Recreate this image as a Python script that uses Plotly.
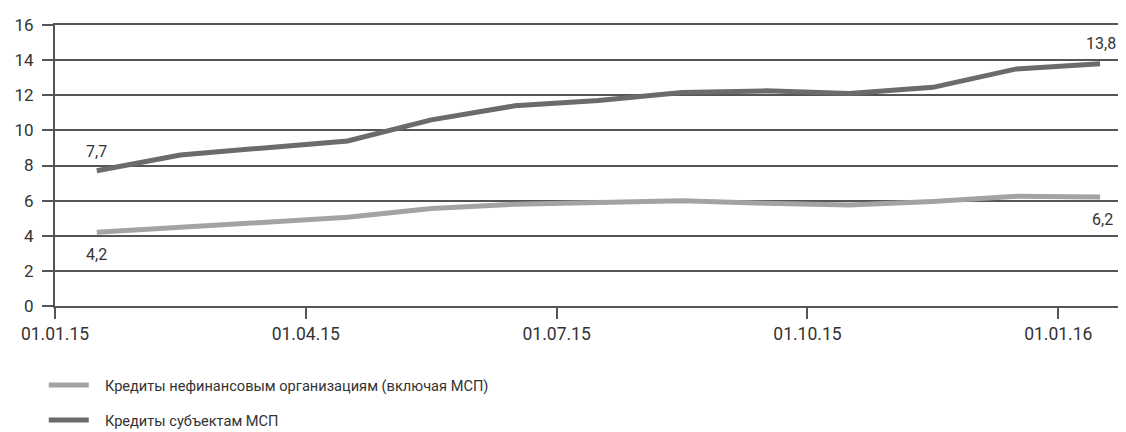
import plotly.graph_objects as go

months = list(range(13))  # monthly points 01.01.15 .. 01.01.16
sme_loans = [7.7, 8.6, 9.0, 9.4, 10.6, 11.4, 11.7, 12.15, 12.25, 12.1, 12.45, 13.5, 13.8]
nonfin_loans = [4.2, 4.5, 4.8, 5.05, 5.55, 5.8, 5.9, 6.0, 5.85, 5.75, 5.95, 6.25, 6.2]

tick_pos = [-0.5, 2.5, 5.5, 8.5, 11.5]
tick_text = ["01.01.15", "01.04.15", "01.07.15", "01.10.15", "01.01.16"]
y_ticks = [0, 2, 4, 6, 8, 10, 12, 14, 16]

name_nonfin = "Кредиты нефинансовым организациям (включая МСП)"
name_sme = "Кредиты субъектам МСП"

FONT = "Roboto, sans-serif"
GRID = "#555555"
TXT = "#333333"
PAD = "\u2002\u2005"  # visual gap between legend symbol and text

def fmt(v):
    return f"{v:.1f}".replace(".", ",")

fig = go.Figure()
fig.add_trace(go.Scatter(
    x=months, y=nonfin_loans, name=PAD + name_nonfin, mode="lines", legendgroup="a",
    line=dict(color="#a3a3a3", width=5),
))
fig.add_trace(go.Scatter(
    x=months, y=sme_loans, name=PAD + name_sme, mode="lines", legendgroup="b",
    line=dict(color="#6b6b6b", width=5),
))

annos = [
    (months[0], sme_loans[0], fmt(sme_loans[0]), 0, 19),
    (months[-1], sme_loans[-1], fmt(sme_loans[-1]), 1, 20),
    (months[0], nonfin_loans[0], fmt(nonfin_loans[0]), 0, -22),
    (months[-1], nonfin_loans[-1], fmt(nonfin_loans[-1]), 2, -22),
]
for x, y, t, xs, ys in annos:
    fig.add_annotation(x=x, y=y, text=t, showarrow=False, xshift=xs, yshift=ys,
                       font=dict(size=16, color=TXT, family=FONT))

fig.update_layout(
    width=1118, height=424,
    margin=dict(l=47, r=0, t=17, b=126, autoexpand=False),
    plot_bgcolor="white", paper_bgcolor="white",
    font=dict(family=FONT, size=15, color=TXT),
    showlegend=True,
    legend=dict(x=-0.0105, y=-0.224, xanchor="left", yanchor="top",
                orientation="v", font=dict(size=14.6, color=TXT),
                tracegroupgap=13, itemwidth=40, bgcolor="rgba(0,0,0,0)"),
    xaxis=dict(
        range=[-0.5, 12.31], tickmode="array", tickvals=tick_pos, ticktext=tick_text,
        showgrid=False, zeroline=False, showline=True, mirror=True,
        linecolor=GRID, linewidth=2,
        ticks="outside", ticklen=11, tickwidth=1.5, tickcolor=GRID,
        tickfont=dict(size=17.5, color=TXT),
    ),
    yaxis=dict(
        range=[0, 16], tickmode="array", tickvals=y_ticks,
        showgrid=True, gridcolor=GRID, gridwidth=2,
        zeroline=False, showline=True, linecolor=GRID, linewidth=2,
        ticks="outside", ticklen=11, tickwidth=2, tickcolor=GRID,
        ticklabelstandoff=5,
        tickfont=dict(size=17, color=TXT),
    ),
)

fig.write_html("out.html")
